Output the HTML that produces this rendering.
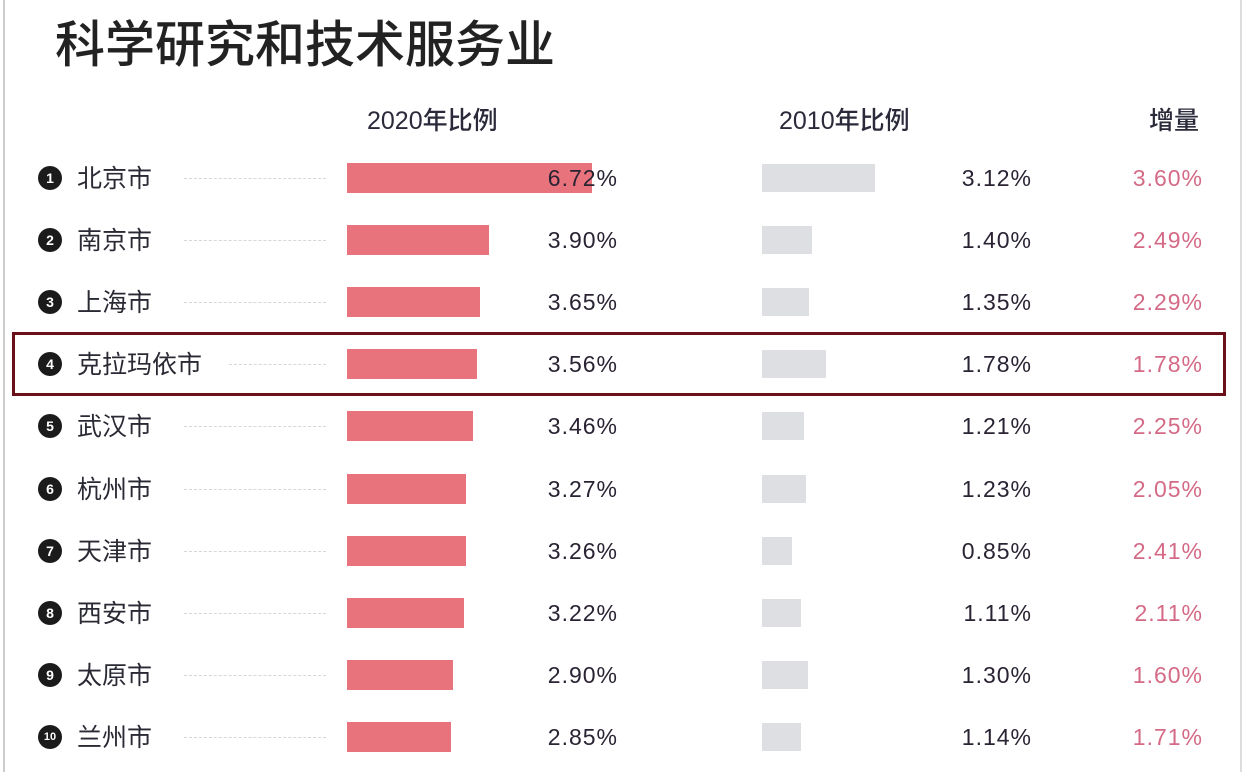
<!DOCTYPE html>
<html><head><meta charset="utf-8"><style>
body{margin:0;width:1246px;height:772px;background:#fff;position:relative;overflow:hidden;font-family:"Liberation Sans","Noto Sans CJK SC",sans-serif;color:#2a2333}
.a{position:absolute;white-space:nowrap}
.t{left:55px;top:10px;font-size:50px;font-weight:500;color:#222;line-height:70px}
.h{top:101px;font-size:25px;font-weight:500;color:#2a2a3a}
.c{width:24px;height:24px;border-radius:50%;background:#1b1b1b;color:#fff;font-size:14px;font-weight:bold;text-align:center;line-height:24px}
.n{left:77px;font-size:25px;color:#2a2a35;line-height:30px}
.d{left:184px;width:142px;border-top:1px dashed #d6d6dc}
.r{left:347px;height:30px;background:#e9737c}
.g{left:762px;height:28px;background:#dedfe2}
.v{font-size:23px;letter-spacing:1px;text-align:right;width:120px}
</style></head><body>
<div class="a" style="left:3px;top:0;width:2px;height:772px;background:#ccc"></div>
<div class="a" style="left:1240px;top:0;width:2px;height:772px;background:#ddd"></div>
<div class="a t">科学研究和技术服务业</div>
<div class="a h" style="left:367px">2020年比例</div>
<div class="a h" style="left:779px">2010年比例</div>
<div class="a h" style="left:1149px">增量</div>
<div class="a" style="left:12px;top:332px;width:1208px;height:58px;border:3px solid #6b1018"></div>
<div id="rows"></div>
<script>
var d=[["北京市",245,"6.72%",113,"3.12%","3.60%"],["南京市",142,"3.90%",50,"1.40%","2.49%"],["上海市",133,"3.65%",47,"1.35%","2.29%"],["克拉玛依市",130,"3.56%",64,"1.78%","1.78%"],["武汉市",126,"3.46%",42,"1.21%","2.25%"],["杭州市",119,"3.27%",44,"1.23%","2.05%"],["天津市",119,"3.26%",30,"0.85%","2.41%"],["西安市",117,"3.22%",39,"1.11%","2.11%"],["太原市",106,"2.90%",46,"1.30%","1.60%"],["兰州市",104,"2.85%",39,"1.14%","1.71%"]];
var h="";
d.forEach(function(r,i){var y=178+i*62.1;
h+='<div class="a c" style="left:38px;top:'+(y-12)+'px;'+(i==9?'font-size:11px;':'')+'">'+(i+1)+'</div>';
h+='<div class="a n" style="top:'+(y-14)+'px">'+r[0]+'</div>';
h+='<div class="a d" style="top:'+(y)+'px;'+(i==3?'left:229px;width:97px':'')+'"></div>';
h+='<div class="a r" style="top:'+(y-15)+'px;width:'+r[1]+'px"></div>';
h+='<div class="a v" style="left:498px;top:'+(y-13)+'px">'+r[2]+'</div>';
h+='<div class="a g" style="top:'+(y-14)+'px;width:'+r[3]+'px"></div>';
h+='<div class="a v" style="left:912px;top:'+(y-13)+'px">'+r[4]+'</div>';
h+='<div class="a v" style="left:1083px;top:'+(y-13)+'px;color:#d46a86">'+r[5]+'</div>';
});
document.getElementById("rows").innerHTML=h;
</script>
</body></html>
